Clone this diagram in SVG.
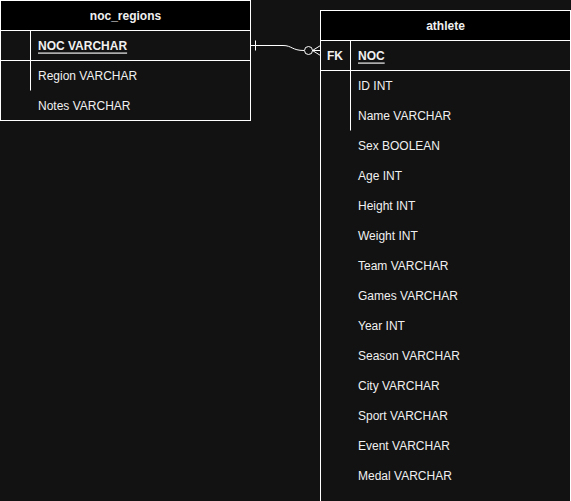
<svg xmlns="http://www.w3.org/2000/svg" width="571" height="501" viewBox="0 0 571 501">
<style>
.bg{fill:#121212}
.box{fill:#121212;stroke:#ffffff;stroke-width:1}
.hdr{fill:#000000;stroke:#ffffff;stroke-width:1}
.ln{stroke:#ffffff;stroke-width:1;fill:none}
text{font-family:"Liberation Sans",Arial,Helvetica,sans-serif;font-size:12px;fill:#f0f0f0;dominant-baseline:central}
.h{font-weight:bold;text-anchor:middle}
.pk{font-weight:bold;text-decoration:underline}
.u{text-decoration:underline}
.b{font-weight:bold}
</style>
<rect class="bg" x="0" y="0" width="571" height="501"/>
<g id="connectors">
<path class="ln" d="M250.5,45.5 L283,45.5 C292,45.5 292,50.5 304,50.5"/>
<line class="ln" x1="255.5" y1="40.5" x2="255.5" y2="50.5"/>
<circle class="ln" cx="308.5" cy="50.5" r="4"/>
<path class="ln" d="M312.5,50.5 L320.5,50.5 M312.5,50.5 L320.5,45.5 M312.5,50.5 L320.5,55.5"/>
</g>
<g id="noc_regions">
<rect class="box" x="0.5" y="0.5" width="250" height="120"/>
<rect class="hdr" x="0.5" y="0.5" width="250" height="30"/>
<line class="ln" x1="0.5" y1="60.5" x2="250.5" y2="60.5"/>
<line class="ln" x1="30.5" y1="30.5" x2="30.5" y2="90.5"/>
<text class="h" x="125.5" y="15.5">noc_regions</text>
<text class="pk" x="38" y="45.5">NOC VARCHAR</text>
<text x="38" y="75.5">Region VARCHAR</text>
<text x="38" y="105.5">Notes VARCHAR</text>
</g>
<g id="athlete">
<rect class="box" x="320.5" y="10.5" width="250" height="500"/>
<rect class="hdr" x="320.5" y="10.5" width="250" height="30"/>
<line class="ln" x1="320.5" y1="70.5" x2="570.5" y2="70.5"/>
<line class="ln" x1="350.5" y1="40.5" x2="350.5" y2="130.5"/>
<text class="h" x="445.5" y="25.5">athlete</text>
<text class="b" x="327" y="55.5">FK</text>
<text class="pk" x="358" y="55.5">NOC</text>
<text x="358" y="85.5">ID INT</text>
<text x="358" y="115.5">Name VARCHAR</text>
<text x="358" y="145.5">Sex BOOLEAN</text>
<text x="358" y="175.5">Age INT</text>
<text x="358" y="205.5">Height INT</text>
<text x="358" y="235.5">Weight INT</text>
<text x="358" y="265.5">Team VARCHAR</text>
<text x="358" y="295.5">Games VARCHAR</text>
<text x="358" y="325.5">Year INT</text>
<text x="358" y="355.5">Season VARCHAR</text>
<text x="358" y="385.5">City VARCHAR</text>
<text x="358" y="415.5">Sport VARCHAR</text>
<text x="358" y="445.5">Event VARCHAR</text>
<text x="358" y="475.5">Medal VARCHAR</text>
</g>
</svg>
